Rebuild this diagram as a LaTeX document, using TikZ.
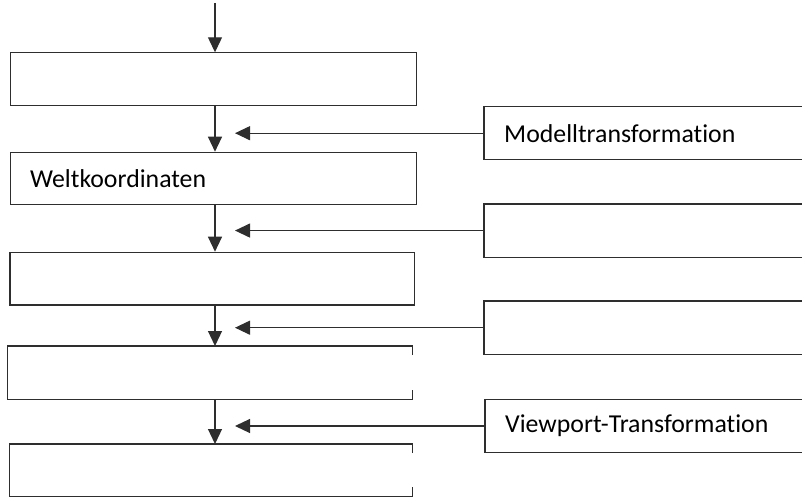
\documentclass[tikz,border=0pt]{standalone}
\usepackage{fontspec}
\setmainfont{Carlito}[Ligatures={NoCommon,NoDiscretionary,NoHistoric,NoContextual}]
\usetikzlibrary{arrows.meta}
\begin{document}
\begin{tikzpicture}[x=1pt,y=-1pt,
  edge/.style={draw=black!82, line width=1.2pt},
  arr/.style={edge, -{Triangle[length=15pt,width=14pt]}},
  boxbase/.style={inner sep=0pt, inner xsep=20pt, align=left, anchor=north west,
    font=\fontsize{25.8}{30}\selectfont},
  lbox/.style 2 args={boxbase, edge, text width=#1-40pt, minimum height=#2},
  obox/.style 2 args={boxbase, draw=none, text width=#1-40pt, minimum height=#2}]
\useasboundingbox (0,0) rectangle (802,497);
\coordinate (ax) at (215,0);
\coordinate (tipx) at (235,0);
\coordinate (top) at (215,3);
% left column
\node[lbox={406pt}{53pt}]   (b1) at (9.5,52.3) {};
\node[lbox={406pt}{52.3pt}] (b2) at (9.5,151.7) {Weltkoordinaten};
\node[lbox={404.7pt}{52.6pt}] (b3) at (9.3,251.7) {};
\node[obox={404.7pt}{53pt}] (b4) at (7.3,346) {};
\node[obox={402.7pt}{52pt}] (b5) at (9.3,444) {};
\draw[edge] ([yshift=-9pt]b4.north east) -- (b4.north east) -- (b4.north west)
  -- (b4.south west) -- (b4.south east) -- ([yshift=9pt]b4.south east);
\draw[edge] ([yshift=-9pt]b5.north east) -- (b5.north east) -- (b5.north west)
  -- (b5.south west) -- (b5.south east) -- ([yshift=9pt]b5.south east);
% right column
\node[obox={340pt}{52.6pt}] (r1) at (484,106.7) {Modelltransformation};
\node[obox={340pt}{52.7pt}] (r2) at (484,204) {};
\node[obox={340pt}{53pt}]   (r3) at (484,301) {};
\node[obox={340pt}{53pt}]   (r4) at (485,399.3) {Viewport-Transformation};
\foreach \r in {r1,r2,r3,r4}{
  \draw[edge] (\r.north east) -- (\r.north west) -- (\r.south west) -- (\r.south east);
  \draw[arr] (\r.west) -- (\r.west -| tipx);
}
% vertical arrows
\draw[arr] (top) -- (b1.north -| ax);
\draw[arr] (b1.south -| ax) -- (b2.north -| ax);
\draw[arr] (b2.south -| ax) -- (b3.north -| ax);
\draw[arr] (b3.south -| ax) -- (b4.north -| ax);
\draw[arr] (b4.south -| ax) -- (b5.north -| ax);
\end{tikzpicture}
\end{document}
